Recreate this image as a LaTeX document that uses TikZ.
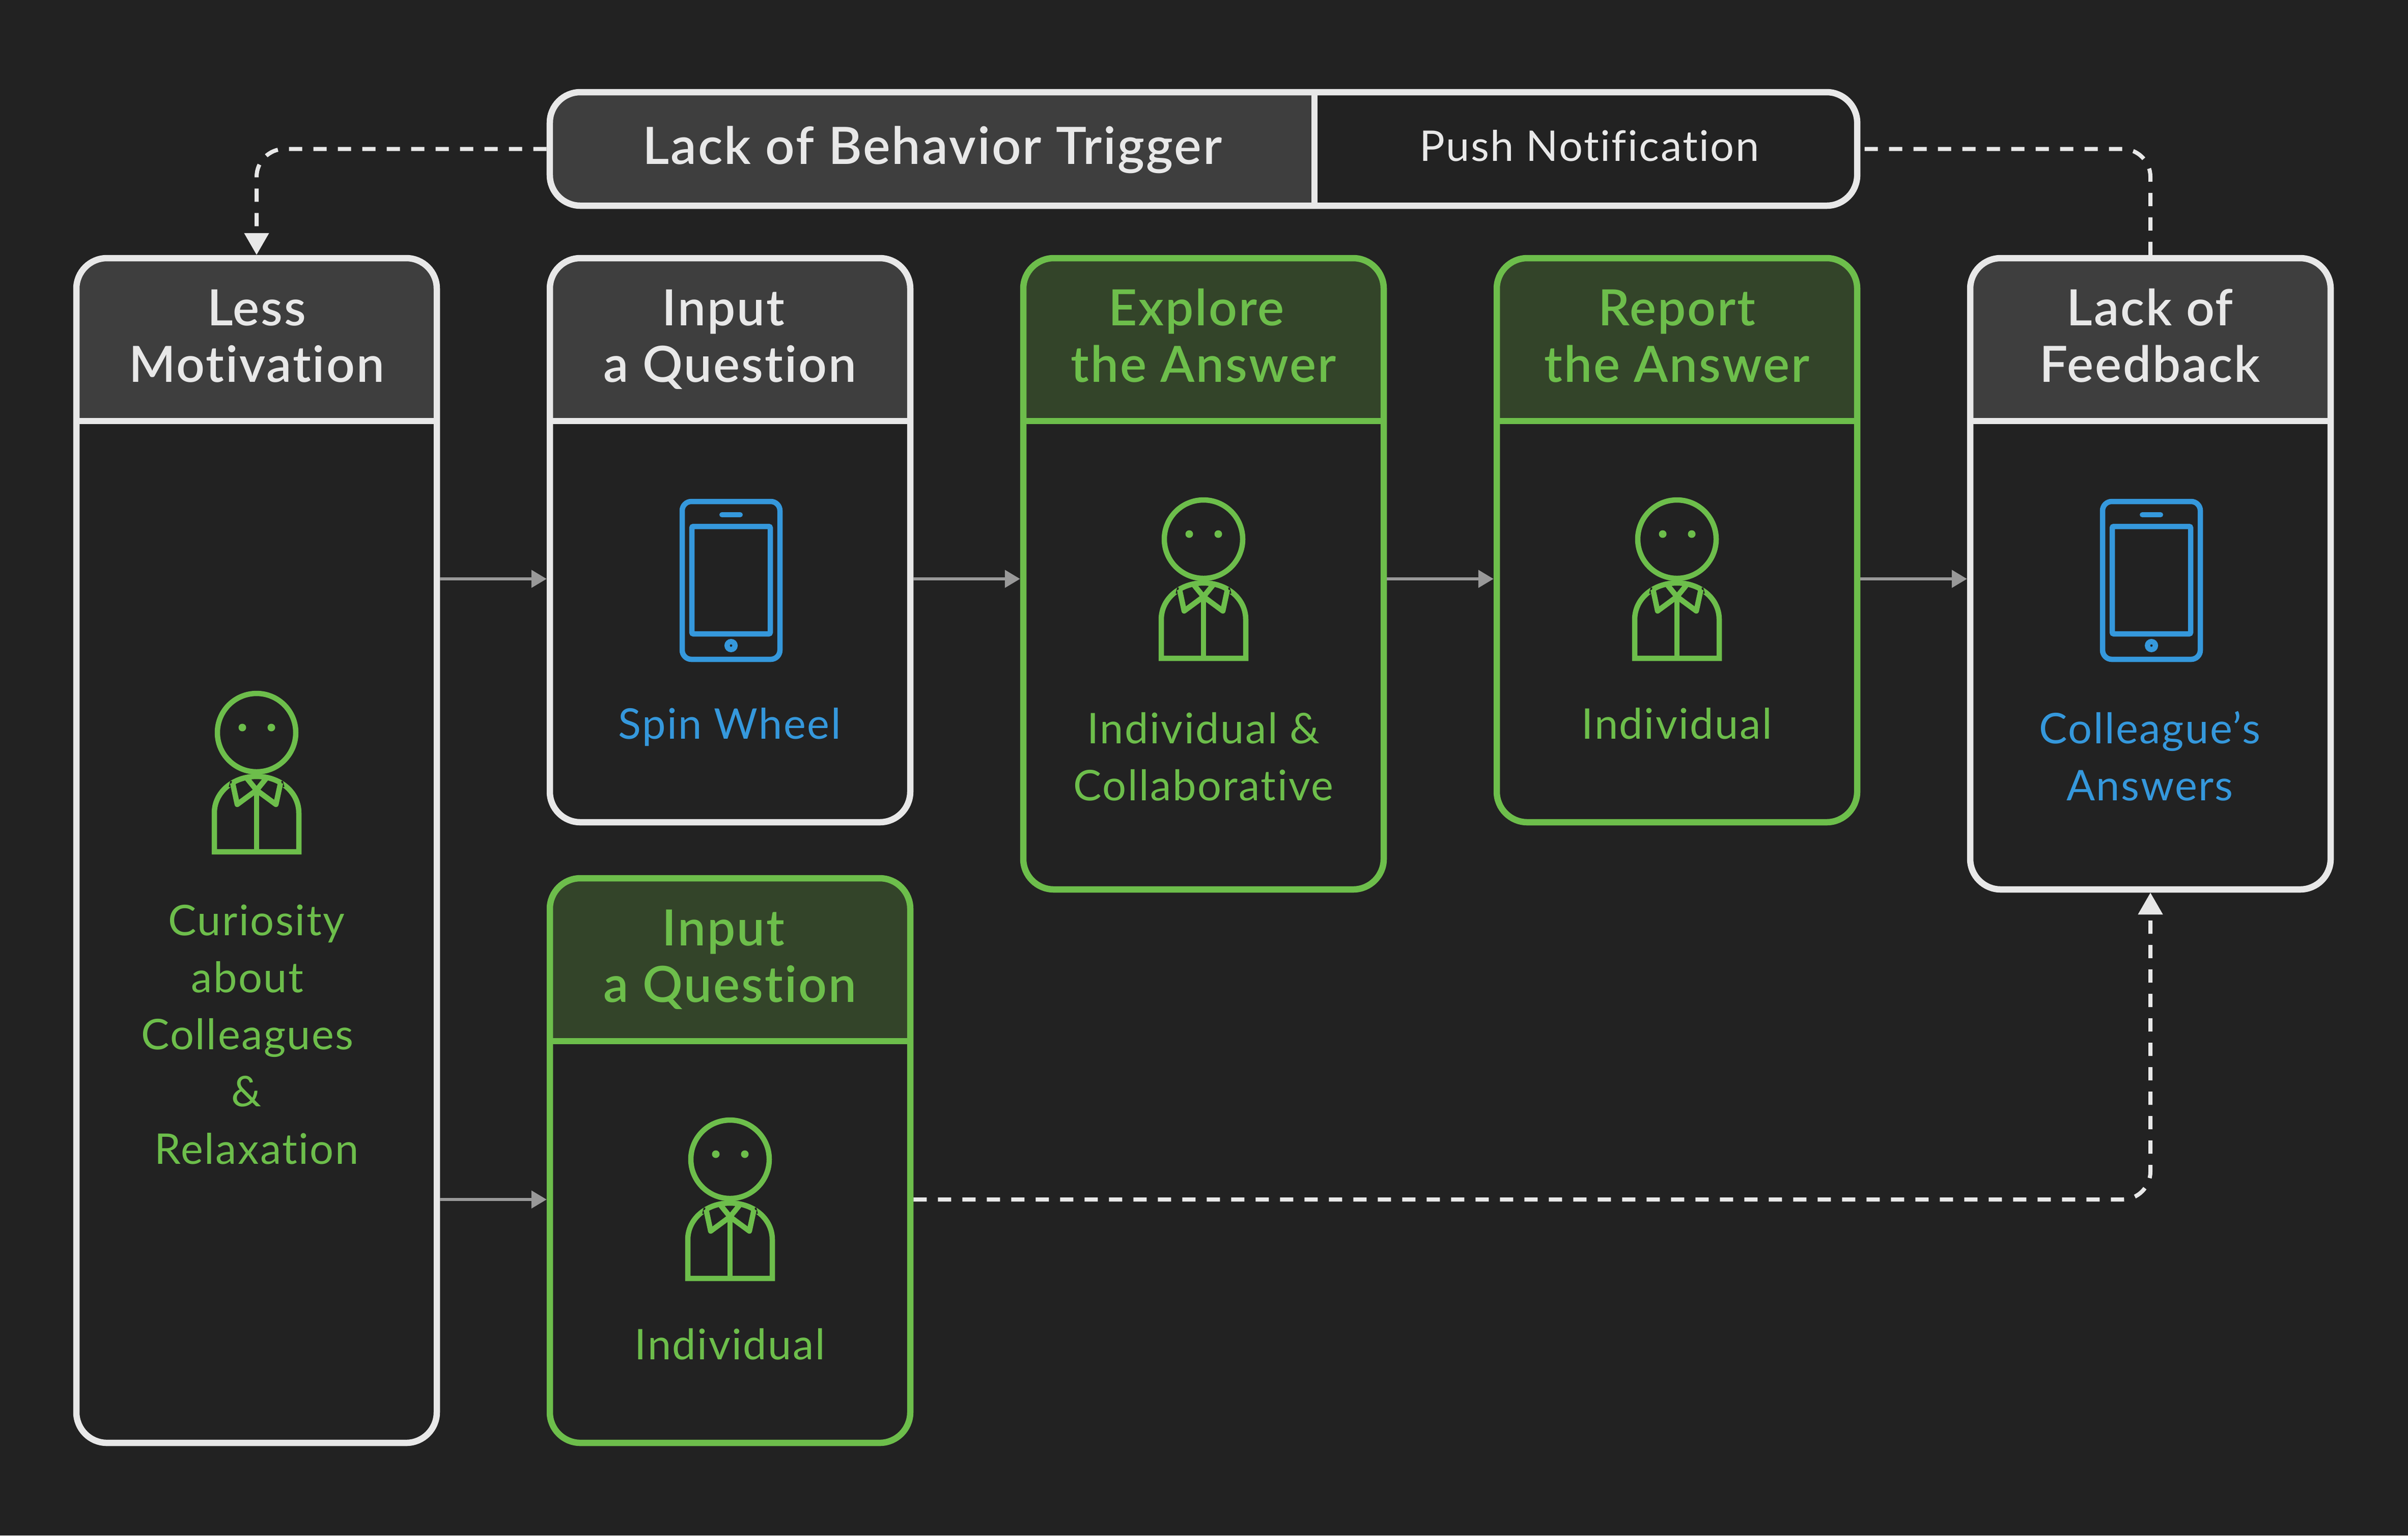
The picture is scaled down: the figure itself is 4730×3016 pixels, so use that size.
\documentclass[tikz,border=0pt]{standalone}
\usepackage{fontspec}
\setmainfont{Lato}[LetterSpace=3,Ligatures=NoCommon]
\newfontfamily\hdfont{Lato Semibold}[LetterSpace=3,Ligatures=NoCommon]
\usetikzlibrary{arrows.meta}
\definecolor{bg}{HTML}{222222}
\definecolor{ink}{HTML}{E8E8E8}
\definecolor{grn}{HTML}{6DBE4B}
\definecolor{blu}{HTML}{3598DC}
\definecolor{hdgray}{HTML}{3E3E3E}
\definecolor{hdgreen}{HTML}{334429}
\definecolor{arrowgray}{HTML}{999999}
\tikzset{
  x=0.2pt,y=-0.2pt,
  cardbox/.style={draw=#1,line width=2.5pt,rounded corners=12pt,inner sep=0pt},
  head/.style={text=#1,anchor=base,inner sep=0pt,font=\hdfont\fontsize{19.6}{23}\selectfont},
  bannerhead/.style={text=#1,anchor=base,inner sep=0pt,font=\hdfont\fontsize{20.2}{24}\selectfont},
  body/.style={text=#1,anchor=base,inner sep=0pt,font=\fontsize{16.6}{19}\selectfont},
  flow/.style={draw=arrowgray,line width=1.2pt,-{Triangle[length=6pt,width=6.8pt]}},
  loopback/.style={draw=ink,line width=1.6pt,dash pattern=on 5.2pt off 4.4pt,rounded corners=11pt},
  looptip/.style={-{Triangle[length=8.6pt,width=9.4pt]}},
  person/.pic={
    \begin{scope}[draw=grn,line width=2.1pt,line join=round]
      \draw (0,-81) circle[radius=15.4pt];
      \fill[grn] (-28,-91) circle[radius=1.5pt] (29,-91) circle[radius=1.5pt];
      \draw[line join=miter] (-83,153) -- (-83,77) .. controls (-83,35) and (-45,5) .. (0,5)
        .. controls (45,5) and (83,35) .. (83,77) -- (83,153) -- cycle;
      \draw[bg,line width=0.7pt] (-53,26) -- (-50,14) (53,26) -- (50,14);
      \draw (0,32) -- (0,153);
      \draw (-22,5) -- (0,32) -- (22,5);
      \draw (-47,18) -- (-38,60) -- (0,32) -- (38,60) -- (47,18);
    \end{scope}
  },
  phone/.pic={
    \begin{scope}[draw=blu,line width=2.1pt]
      \draw[rounded corners=3.6pt] (-96,-155) rectangle (96,155);
      \draw[rounded corners=0.6pt] (-77,-106) rectangle (77,105);
      \draw[line width=2pt,line cap=round] (-18,-129) -- (18,-129);
      \draw (0,128) circle[radius=1.55pt];
    \end{scope}
  }
}
% name, left, right, top, rule, bottom, line colour, header fill
\newcommand{\headedcard}[8]{%
  \begin{scope}
    \clip[rounded corners=12pt] (#2,#4) rectangle (#3,#6);
    \fill[#8] (#2,#4) rectangle (#3,#5);
  \end{scope}
  \draw[#7,line width=2.5pt] (#2,#5) -- (#3,#5);
  \node[cardbox=#7,minimum width={(#3-#2)*0.2pt},minimum height={(#6-#4)*0.2pt}] (#1) at ({(#2+#3)/2},{(#4+#6)/2}) {};
}
\begin{document}
\begin{tikzpicture}
\fill[bg] (0,0) rectangle (4730,3016);
\useasboundingbox (0,0) rectangle (4730,3016);

\coordinate (lev1) at (0,1137);
\coordinate (lev2) at (0,2356);

% top banner
\begin{scope}
  \clip[rounded corners=12pt] (1080,181) rectangle (3648,404);
  \fill[hdgray] (1080,181) rectangle (2582,404);
\end{scope}
\draw[ink,line width=2.5pt] (2582,181) -- (2582,404);
\node[cardbox=ink,minimum width=513.6pt,minimum height=44.6pt] (banner) at (2364,292.5) {};
\node[bannerhead=ink] (bannerA) at (1831,322) {Lack of Behavior Trigger};
\node[body=ink] (bannerB) at (3122,316) {Push Notification};

% cards
\headedcard{b1}{150}{858}{507}{827}{2834}{ink}{hdgray}
\headedcard{b2}{1080}{1788}{507}{827}{1615}{ink}{hdgray}
\headedcard{b3}{2010}{2718}{507}{827}{1747}{grn}{hdgreen}
\headedcard{b4}{2940}{3648}{507}{827}{1615}{grn}{hdgreen}
\headedcard{b5}{3870}{4578}{507}{827}{1747}{ink}{hdgray}
\headedcard{b6}{1080}{1788}{1725}{2045}{2834}{grn}{hdgreen}

% headers
\node[head=ink] (h1a) at (504,639) {Less};
\node[head=ink] (h1b) at (504,750) {Motivation};
\node[head=ink] (h2a) at (1421,639) {Input};
\node[head=ink] (h2b) at (1434,750) {a Question};
\node[head=grn] (h3a) at (2350,639) {Explore};
\node[head=grn] (h3b) at (2364,750) {the Answer};
\node[head=grn] (h4a) at (3294,639) {Report};
\node[head=grn] (h4b) at (3294,750) {the Answer};
\node[head=ink] (h5a) at (4223,639) {Lack of};
\node[head=ink] (h5b) at (4223,750) {Feedback};
\node[head=grn] (h6a) at (1421,1857) {Input};
\node[head=grn] (h6b) at (1434,1968) {a Question};

% icons
\pic at (504,1520) {person};
\pic at (1436,1140) {phone};
\pic at (2364,1140) {person};
\pic at (3294,1140) {person};
\pic at (4226,1140) {phone};
\pic at (1434,2358) {person};

% body texts
\node[body=grn] (t1a) at (504,1837) {Curiosity};
\node[body=grn] (t1b) at (486,1949) {about};
\node[body=grn] (t1c) at (486,2061) {Colleagues};
\node[body=grn] (t1d) at (484,2173) {\&};
\node[body=grn] (t1e) at (504,2286) {Relaxation};
\node[body=blu] (t2) at (1433,1451) {Spin Wheel};
\node[body=grn] (t3a) at (2364,1460) {Individual \&};
\node[body=grn] (t3b) at (2364,1572) {Collaborative};
\node[body=grn] (t4) at (3294,1451) {Individual};
\node[body=blu] (t5a) at (4223,1460) {Colleague’s};
\node[body=blu] (t5b) at (4223,1572) {Answers};
\node[body=grn] (t6) at (1434,2670) {Individual};

% connectors
\draw[flow] (b1.east |- lev1) -- (b2.west |- lev1);
\draw[flow] (b2.east |- lev1) -- (b3.west |- lev1);
\draw[flow] (b3.east |- lev1) -- (b4.west |- lev1);
\draw[flow] (b4.east |- lev1) -- (b5.west |- lev1);
\draw[flow] (b1.east |- lev2) -- (b6.west |- lev2);
\draw[loopback,looptip] (banner.west) -- (b1.north |- banner.west) -- (b1.north);
\draw[loopback] (b5.north) -- (b5.north |- banner.east) -- (banner.east);
\draw[loopback,looptip] (b6.east |- lev2) -- (b5.south |- lev2) -- (b5.south);
\end{tikzpicture}
\end{document}
